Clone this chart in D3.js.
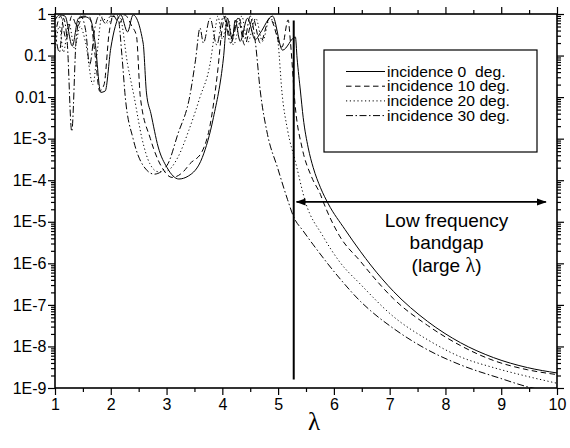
<!DOCTYPE html>
<html>
<head>
<meta charset="utf-8">
<script src="https://cdn.jsdelivr.net/npm/d3@7"></script>
<style>
  body { margin: 0; background: #fff; }
  text { font-family: "Liberation Sans", Arial, sans-serif; fill: #000; }
</style>
</head>
<body>
<div id="chart"></div>
<script>
// transmission vs wavelength
const incidence0 = [
  [1.00, 0.71], [1.08, 0.95], [1.18, 0.89], [1.31, 0.17], [1.42, 0.79], [1.55, 0.85], [1.64, 0.71],
  [1.72, 0.2], [1.82, 0.013], [1.90, 0.014], [2.0, 0.15], [2.08, 0.5], [2.18, 0.95], [2.3, 0.37],
  [2.4, 0.95], [2.58, 0.2], [2.64, 0.0126], [2.72, 0.004], [2.85, 6.3e-4], [3.01, 2e-4],
  [3.22, 1.07e-4], [3.39, 1.26e-4], [3.64, 3.5e-4], [3.84, 3.2e-3], [4.02, 0.087], [4.09, 0.79],
  [4.18, 0.24], [4.23, 0.71], [4.32, 0.22], [4.45, 0.79], [4.59, 0.24], [4.68, 0.35], [4.9, 0.89],
  [5.08, 0.135], [5.31, 0.28], [5.34, 0.087], [5.40, 0.014], [5.45, 3.2e-3], [5.54, 6e-4],
  [5.63, 2e-4], [5.76, 6.6e-5], [5.9, 2.7e-5], [6.2, 6.5e-6], [6.48, 1.9e-6], [6.66, 9.1e-7],
  [7.07, 2.1e-7], [7.68, 4e-8], [8.27, 1.23e-8], [8.86, 5.4e-9], [9.47, 3.1e-9], [10, 2.3e-9],
];
const incidence10 = [
  [1.0, 0.3], [1.1, 0.89], [1.2, 0.25], [1.3, 0.89], [1.4, 0.5], [1.5, 0.89], [1.62, 0.85],
  [1.72, 0.1], [1.8, 0.014], [1.88, 0.02], [1.97, 0.35], [2.05, 0.89], [2.15, 0.6], [2.25, 0.95],
  [2.38, 0.5], [2.46, 0.3], [2.53, 0.01], [2.71, 1e-3], [2.92, 2e-4], [3.1, 1.17e-4], [3.3, 1.6e-4],
  [3.42, 2.5e-4], [3.64, 5e-4], [3.78, 2.1e-3], [3.91, 0.035], [4.0, 0.47], [4.05, 0.89],
  [4.15, 0.25], [4.28, 0.79], [4.4, 0.18], [4.55, 0.79], [4.68, 0.2], [4.85, 0.79], [5.07, 0.16],
  [5.18, 0.72], [5.22, 0.22], [5.31, 5.5e-3], [5.43, 6e-4], [5.6, 1.2e-4], [5.76, 4.5e-5],
  [5.81, 3e-5], [6.1, 4.6e-6], [6.48, 1.1e-6], [6.66, 5.6e-7], [7.07, 1.4e-7], [7.68, 3.2e-8],
  [8.27, 1.05e-8], [8.86, 4.6e-9], [9.47, 2.75e-9], [10, 2.1e-9],
];
const incidence20 = [
  [1.0, 0.15], [1.08, 0.5], [1.15, 0.12], [1.25, 0.6], [1.35, 0.15], [1.45, 0.5], [1.55, 0.2],
  [1.68, 0.02], [1.75, 0.1], [1.84, 0.85], [1.95, 0.6], [2.07, 0.95], [2.17, 0.79], [2.3, 0.063],
  [2.42, 0.01], [2.56, 1e-3], [2.7, 2.5e-4], [2.85, 1.6e-4], [3.0, 1.66e-4], [3.2, 3.5e-4],
  [3.4, 1.6e-3], [3.6, 0.01], [3.78, 0.063], [3.88, 0.5], [3.92, 0.89], [4.0, 0.25], [4.1, 0.79],
  [4.2, 0.18], [4.35, 0.89], [4.45, 0.2], [4.6, 0.79], [4.72, 0.22], [4.85, 0.79], [4.95, 0.5],
  [5.0, 0.2], [5.07, 0.0126], [5.17, 1.6e-3], [5.31, 2.8e-4], [5.49, 3e-5], [5.8, 4.6e-6],
  [6.1, 1.1e-6], [6.48, 3.1e-7], [7.07, 5.2e-8], [7.68, 1.45e-8], [8.27, 5.6e-9], [8.86, 3.1e-9],
  [9.47, 1.9e-9], [10, 1.3e-9],
];
const incidence30 = [
  [1.0, 0.4], [1.08, 0.12], [1.15, 0.79], [1.22, 0.2], [1.3, 0.0015], [1.38, 0.25], [1.46, 0.89],
  [1.55, 0.4], [1.62, 0.06], [1.72, 0.5], [1.8, 0.95], [1.9, 0.6], [2.0, 0.89], [2.13, 0.79],
  [2.2, 0.1], [2.26, 0.01], [2.4, 1e-3], [2.56, 2.5e-4], [2.78, 1.4e-4], [3.01, 2.3e-4],
  [3.2, 1.26e-3], [3.42, 0.0112], [3.52, 0.079], [3.6, 0.46], [3.66, 0.2], [3.78, 0.79],
  [3.9, 0.18], [4.02, 0.89], [4.15, 0.2], [4.3, 0.79], [4.4, 0.25], [4.5, 0.89], [4.59, 0.22],
  [4.68, 0.014], [4.81, 1.26e-3], [4.99, 2e-4], [5.17, 3.4e-5], [5.28, 1.3e-5], [5.45, 6e-6],
  [5.63, 2.8e-6], [6.12, 4.1e-7], [6.48, 1.2e-7], [6.66, 7.2e-8], [7.07, 2.7e-8], [7.68, 8.3e-9],
  [8.27, 3.6e-9], [8.99, 1.7e-9], [9.47, 1.07e-9], [10, 7.8e-10],
];

const seriesLabels = ['incidence 0  deg.', 'incidence 10 deg.', 'incidence 20 deg.', 'incidence 30 deg.'];
const xTickValues = [1, 2, 3, 4, 5, 6, 7, 8, 9, 10];
const yTickValues = [1, 0.1, 0.01, 1e-3, 1e-4, 1e-5, 1e-6, 1e-7, 1e-8, 1e-9];
const yTickLabels = ['1', '0.1', '0.01', '1E-3', '1E-4', '1E-5', '1E-6', '1E-7', '1E-8', '1E-9'];

// bandgap marker: vertical edge and the arrow spanning the gap
const gapEdge = { x: 5.28, top: 0.7, bottom: 1.6e-9 };
const gapArrow = { from: 5.33, to: 9.8, level: 3e-5 };
const gapText = ['Low frequency', 'bandgap'];

const width = 570;
const height = 448;
const margin = { top: 14, right: 13, bottom: 60, left: 55 };

const styles = [
  { dash: null },
  { dash: '5.5,3.5' },
  { dash: '1.2,2.6' },
  { dash: '7,2.5,1.5,2.5' },
];

const svg = d3.select('#chart').append('svg')
  .attr('width', width)
  .attr('height', height);

const x = d3.scaleLinear().domain([1, 10]).range([margin.left, width - margin.right]);
const y = d3.scaleLog().domain([1e-9, 1]).range([height - margin.bottom, margin.top]);

const xMinor = d3.range(1.5, 10, 1);
const yMinor = y.ticks().filter((v) => !yTickValues.some((m) => Math.abs(v / m - 1) < 1e-6));

const defs = svg.append('defs');
defs.append('clipPath').attr('id', 'plot-clip')
  .append('rect')
  .attr('x', margin.left).attr('y', margin.top)
  .attr('width', width - margin.left - margin.right)
  .attr('height', height - margin.top - margin.bottom);

defs.append('marker')
  .attr('id', 'arrow-head')
  .attr('viewBox', '0 -4 10 8')
  .attr('refX', 9)
  .attr('refY', 0)
  .attr('markerUnits', 'userSpaceOnUse')
  .attr('markerWidth', 10)
  .attr('markerHeight', 8)
  .attr('orient', 'auto-start-reverse')
  .append('path')
  .attr('d', 'M0,-3.5L10,0L0,3.5Z')
  .attr('fill', '#000');

// curves
const line = d3.line()
  .x((d) => x(d[0]))
  .y((d) => y(d[1]))
  .curve(d3.curveMonotoneX);

const allSeries = [incidence0, incidence10, incidence20, incidence30];

svg.append('g')
  .attr('clip-path', 'url(#plot-clip)')
  .selectAll('path')
  .data(allSeries)
  .join('path')
  .attr('d', line)
  .attr('fill', 'none')
  .attr('stroke', '#000')
  .attr('stroke-width', 1)
  .attr('stroke-dasharray', (d, i) => styles[i].dash);

// axes
function styleAxis(g) {
  g.select('.domain').remove();
  g.selectAll('.tick line').attr('stroke', '#000').attr('stroke-width', 1.2);
  g.selectAll('.tick text').attr('font-size', 16).attr('fill', '#000');
}

const fmtY = (d) => yTickLabels[yTickValues.findIndex((m) => Math.abs(d / m - 1) < 1e-6)];

svg.append('g')
  .attr('transform', `translate(0,${height - margin.bottom})`)
  .call(d3.axisBottom(x).tickValues(xTickValues).tickSize(7).tickPadding(4).tickFormat(d3.format('d')))
  .call(styleAxis);
svg.append('g')
  .attr('transform', `translate(0,${height - margin.bottom})`)
  .call(d3.axisBottom(x).tickValues(xMinor).tickSize(4).tickFormat(''))
  .call(styleAxis);
svg.append('g')
  .attr('transform', `translate(0,${margin.top})`)
  .call(d3.axisTop(x).tickValues(xTickValues).tickSize(7).tickFormat(''))
  .call(styleAxis);
svg.append('g')
  .attr('transform', `translate(0,${margin.top})`)
  .call(d3.axisTop(x).tickValues(xMinor).tickSize(4).tickFormat(''))
  .call(styleAxis);

svg.append('g')
  .attr('transform', `translate(${margin.left},0)`)
  .call(d3.axisLeft(y).tickValues(yTickValues).tickSize(7).tickPadding(1.5).tickFormat(fmtY))
  .call(styleAxis);
svg.append('g')
  .attr('transform', `translate(${margin.left},0)`)
  .call(d3.axisLeft(y).tickValues(yMinor).tickSize(4).tickFormat(''))
  .call(styleAxis);
svg.append('g')
  .attr('transform', `translate(${width - margin.right},0)`)
  .call(d3.axisRight(y).tickValues(yTickValues).tickSize(7).tickFormat(''))
  .call(styleAxis);
svg.append('g')
  .attr('transform', `translate(${width - margin.right},0)`)
  .call(d3.axisRight(y).tickValues(yMinor).tickSize(4).tickFormat(''))
  .call(styleAxis);

// frame
svg.append('rect')
  .attr('x', margin.left)
  .attr('y', margin.top)
  .attr('width', width - margin.left - margin.right)
  .attr('height', height - margin.top - margin.bottom)
  .attr('fill', 'none')
  .attr('stroke', '#000')
  .attr('stroke-width', 1.6);

// x axis title
svg.append('text')
  .attr('x', (margin.left + width - margin.right) / 2 + 8)
  .attr('y', 430)
  .attr('text-anchor', 'middle')
  .attr('font-size', 25)
  .style('font-family', '"Liberation Serif", "Times New Roman", serif')
  .text('λ');

// bandgap annotation
svg.append('line')
  .attr('x1', x(gapEdge.x)).attr('x2', x(gapEdge.x))
  .attr('y1', y(gapEdge.top)).attr('y2', y(gapEdge.bottom))
  .attr('stroke', '#000')
  .attr('stroke-width', 2);

svg.append('line')
  .attr('x1', x(gapArrow.from)).attr('x2', x(gapArrow.to))
  .attr('y1', y(gapArrow.level)).attr('y2', y(gapArrow.level))
  .attr('stroke', '#000')
  .attr('stroke-width', 1.8)
  .attr('marker-start', 'url(#arrow-head)')
  .attr('marker-end', 'url(#arrow-head)');

const textX = x(8.02);
const textY = y(gapArrow.level);
svg.append('text')
  .attr('x', textX).attr('y', textY + 25)
  .attr('text-anchor', 'middle')
  .attr('font-size', 19)
  .text(gapText[0]);
svg.append('text')
  .attr('x', textX).attr('y', textY + 47)
  .attr('text-anchor', 'middle')
  .attr('font-size', 19)
  .text(gapText[1]);
const t3 = svg.append('text')
  .attr('x', textX).attr('y', textY + 70)
  .attr('text-anchor', 'middle')
  .attr('font-size', 19);
t3.append('tspan').text('(large ');
t3.append('tspan')
  .style('font-family', '"Liberation Serif", "Times New Roman", serif')
  .attr('font-size', 20)
  .text('λ');
t3.append('tspan').text(')');

// legend
const legend = svg.append('g').attr('transform', 'translate(324,50)');
legend.append('rect')
  .attr('width', 213)
  .attr('height', 102)
  .attr('fill', '#fff')
  .attr('stroke', '#000')
  .attr('stroke-width', 1.2);

const rows = legend.selectAll('g.row')
  .data(seriesLabels)
  .join('g')
  .attr('class', 'row')
  .attr('transform', (d, i) => `translate(0,${21.5 + i * 14.7})`);

rows.append('line')
  .attr('x1', 22).attr('x2', 61)
  .attr('stroke', '#000')
  .attr('stroke-width', 1)
  .attr('stroke-dasharray', (d, i) => styles[i].dash);

rows.append('text')
  .attr('x', 63)
  .attr('y', 5)
  .attr('font-size', 14)
  .style('white-space', 'pre')
  .text((d) => d)
  .each(function () {
    // the labels in the picture run a little wider than the font's own spacing
    const w = this.getComputedTextLength();
    d3.select(this).attr('textLength', w * 1.12).attr('lengthAdjust', 'spacingAndGlyphs');
  });
</script>
</body>
</html>
